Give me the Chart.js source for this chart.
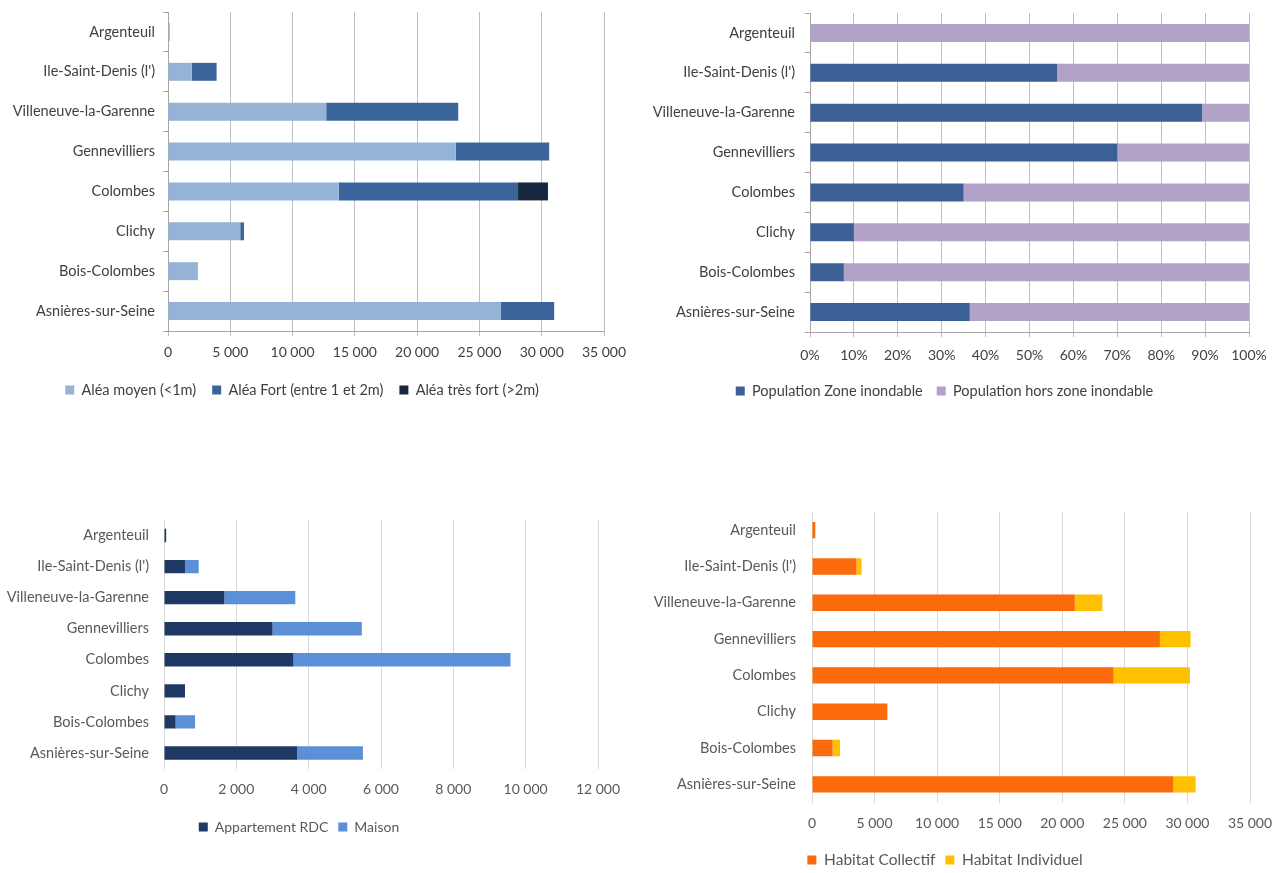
<!DOCTYPE html>
<html><head><meta charset="utf-8">
<script src="https://cdn.jsdelivr.net/npm/chart.js@4"></script>
<style>
html,body{margin:0;padding:0;background:#fff;width:1278px;height:873px;overflow:hidden}
.box{position:absolute}
</style></head><body>
<div class="box" style="left:0;top:0;width:640px;height:420px"><canvas id="c1"></canvas></div>
<div class="box" style="left:640px;top:0;width:638px;height:420px"><canvas id="c2"></canvas></div>
<div class="box" style="left:0;top:480px;width:640px;height:393px"><canvas id="c3"></canvas></div>
<div class="box" style="left:640px;top:480px;width:638px;height:400px"><canvas id="c4"></canvas></div>
<script>
const communes = ["Argenteuil","Ile-Saint-Denis (l')","Villeneuve-la-Garenne","Gennevilliers","Colombes","Clichy","Bois-Colombes","Asnières-sur-Seine"];

// Chart 1 : population en zone inondable par aléa
const aleaMoyen   = [150, 1900, 12700, 23100, 13700, 5800, 2400, 26700];
const aleaFort    = [0, 2000, 10600, 7500, 14400, 300, 0, 4300];
const aleaTresFort= [0, 0, 0, 0, 2400, 0, 0, 0];
const ticks1 = [0,5000,10000,15000,20000,25000,30000,35000];

// Chart 2 : part de population en zone inondable (%)
const popZone     = [0, 56.3, 89.3, 70, 35, 10, 7.7, 36.4];
const popHorsZone = [100, 43.7, 10.7, 30, 65, 90, 92.3, 63.6];
const ticks2 = [0,10,20,30,40,50,60,70,80,90,100];

// Chart 3 : logements de plain-pied
const appartRDC = [60, 580, 1670, 3000, 3580, 580, 320, 3680];
const maison    = [0, 380, 1960, 2470, 6000, 0, 540, 1820];
const ticks3 = [0,2000,4000,6000,8000,10000,12000];

// Chart 4 : type d'habitat
const habCollectif  = [250, 3560, 21000, 27800, 24100, 6020, 1650, 28880];
const habIndividuel = [30, 400, 2200, 2450, 6100, 0, 590, 1770];
const ticks4 = [0,5000,10000,15000,20000,25000,30000,35000];

const FONT = "Lato, 'Open Sans', sans-serif";
Chart.defaults.font.family = FONT;
Chart.defaults.animation = false;
Chart.defaults.responsive = true;
Chart.defaults.maintainAspectRatio = false;

function fmt(v){ return v >= 1000 ? String(v).replace(/\B(?=(\d{3})+(?!\d))/g, "\u202f") : String(v); }

function make(id, cfg){
  const {labels, sets, max, tickVals, tickFmt, yWidth, pad, xHeight, barPct, txtColor, gridColor, axisLine, legendPad, legendFont, xPad, yPad} = cfg;
  return new Chart(document.getElementById(id), {
    type: 'bar',
    data: { labels: labels, datasets: sets.map(s => ({label:s.label, data:s.data, backgroundColor:s.color, borderWidth:0, categoryPercentage:1, barPercentage:barPct})) },
    options: {
      indexAxis: 'y',
      layout: { padding: pad },
      plugins: {
        tooltip: {enabled:false},
        legend: { position:'bottom', labels: { boxWidth: 9, boxHeight: 9, padding: legendPad, color: txtColor, font:{size:legendFont, family:FONT} } }
      },
      scales: {
        x: {
          stacked: true, min: 0, max: max,
          afterBuildTicks: sc => { sc.ticks = tickVals.map(v => ({value:v})); },
          afterFit: sc => { sc.height = xHeight; sc.paddingLeft = 0; sc.paddingRight = 0; },
          ticks: { color: txtColor, font:{size:14, family:FONT}, padding: xPad, callback: v => tickFmt(v), maxRotation:0, autoSkip:false },
          grid: { color: gridColor, lineWidth:1, tickLength: axisLine ? 5 : 0, drawTicks: axisLine },
          border: { display: axisLine, color: '#a6a6a6' }
        },
        y: {
          stacked: true,
          afterFit: sc => { sc.width = yWidth; sc.paddingTop = 0; sc.paddingBottom = 0; },
          ticks: { color: txtColor, font:{size:14.5, family:FONT}, padding: yPad },
          grid: { display: axisLine, drawOnChartArea:false, drawTicks: axisLine, tickLength:5, color:'#a6a6a6', offset:true },
          border: { display: axisLine, color: '#a6a6a6' }
        }
      }
    }
  });
}

make('c1', {
  labels: communes,
  sets: [
    {label:'Aléa moyen (<1m)', data: aleaMoyen, color:'#95b3d7'},
    {label:'Aléa Fort (entre 1 et 2m)', data: aleaFort, color:'#3c659c'},
    {label:'Aléa très fort (>2m)', data: aleaTresFort, color:'#16263d'}
  ],
  max: 35000, tickVals: ticks1, tickFmt: fmt, yWidth: 168,
  pad: {top:12, right:36, bottom:12.75, left:0}, xHeight: 35.75, barPct: 0.45,
  txtColor:'#404040', gridColor:'#bfbfbf', axisLine:true, legendPad:16, legendFont:14.5, xPad:8, yPad:8
});

make('c2', {
  labels: communes,
  sets: [
    {label:'Population Zone inondable', data: popZone, color:'#3b6096'},
    {label:'Population hors zone inondable', data: popHorsZone, color:'#b3a2c8'}
  ],
  max: 100, tickVals: ticks2, tickFmt: v => v + '%', yWidth: 170,
  pad: {top:13, right:29, bottom:11.75, left:0}, xHeight: 37.75, barPct: 0.45,
  txtColor:'#404040', gridColor:'#bfbfbf', axisLine:true, legendPad:14, legendFont:14.5, xPad:10, yPad:10
});

make('c3', {
  labels: communes,
  sets: [
    {label:'Appartement RDC', data: appartRDC, color:'#1f3864'},
    {label:'Maison', data: maison, color:'#5b8fd8'}
  ],
  max: 12000, tickVals: ticks3, tickFmt: fmt, yWidth: 164,
  pad: {top:40, right:42, bottom:29, left:0}, xHeight: 41.5, barPct: 0.43,
  txtColor:'#595959', gridColor:'#d9d9d9', axisLine:false, legendPad:10, legendFont:14, xPad:13, yPad:15
});

make('c4', {
  labels: communes,
  sets: [
    {label:'Habitat Collectif', data: habCollectif, color:'#fb6a0b'},
    {label:'Habitat Individuel', data: habIndividuel, color:'#ffc000'}
  ],
  max: 35000, tickVals: ticks4, tickFmt: fmt, yWidth: 172,
  pad: {top:32, right:28, bottom:2.25, left:0}, xHeight: 39.75, barPct: 0.45,
  txtColor:'#595959', gridColor:'#d9d9d9', axisLine:false, legendPad:10, legendFont:15.5, xPad:13, yPad:16
});
</script>
</body></html>
